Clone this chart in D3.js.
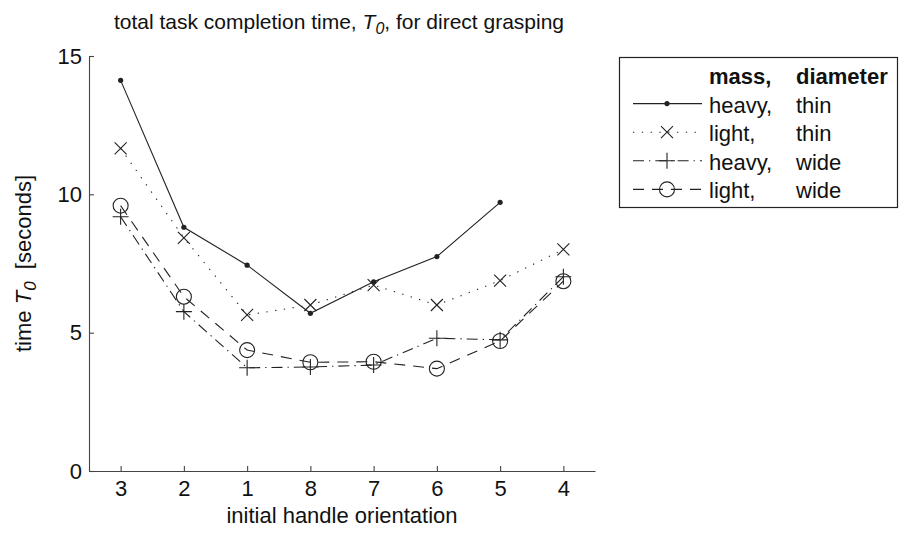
<!DOCTYPE html>
<html><head><meta charset="utf-8">
<script src="https://cdn.jsdelivr.net/npm/d3@7/dist/d3.min.js"></script>
<style>
body{margin:0;background:#fff;}
svg{display:block;font-family:"Liberation Sans",Arial,Helvetica,sans-serif;}
</style></head>
<body><svg id="c" width="899" height="533"></svg>
<script>
const categories = ["3","2","1","8","7","6","5","4"];
const yTicks = [0,5,10,15];
const heavyThin = [14.12, 8.81, 7.44, 5.70, 6.84, 7.75, 9.71, null];
const lightThin = [11.66, 8.43, 5.64, 6.00, 6.72, 6.00, 6.88, 8.01];
const heavyWide = [9.19, 5.76, 3.73, 3.76, 3.83, 4.80, 4.74, 7.02];
const lightWide = [9.59, 6.30, 4.37, 3.93, 3.95, 3.70, 4.70, 6.86];
const legendHeader = ["mass,", "diameter"];
const legendRows = [["heavy,","thin"],["light,","thin"],["heavy,","wide"],["light,","wide"]];

const svg = d3.select("#c");
const FS = 22;
const ink = "#222";
const x = d3.scalePoint().domain(categories).range([89,595]).padding(0.5);
const y = d3.scaleLinear().domain([0,15]).range([471,56]);

const series = [
  {vals: heavyThin, dash: null, marker: "dot"},
  {vals: lightThin, dash: "1.3,7.5", marker: "x"},
  {vals: heavyWide, dash: "11,5,1.3,5", marker: "plus"},
  {vals: lightWide, dash: "11,8", marker: "circle"}
];

function drawMarker(g, type, cx, cy){
  if(type==="dot"){
    g.append("circle").attr("cx",cx).attr("cy",cy).attr("r",2.6).attr("fill",ink);
  } else if(type==="x"){
    const s=6;
    g.append("path").attr("d",`M${cx-s},${cy-s}L${cx+s},${cy+s}M${cx-s},${cy+s}L${cx+s},${cy-s}`)
      .attr("stroke",ink).attr("stroke-width",1.1).attr("fill","none");
  } else if(type==="plus"){
    const s=8;
    g.append("path").attr("d",`M${cx-s},${cy}L${cx+s},${cy}M${cx},${cy-s}L${cx},${cy+s}`)
      .attr("stroke",ink).attr("stroke-width",1.1).attr("fill","none");
  } else if(type==="circle"){
    g.append("circle").attr("cx",cx).attr("cy",cy).attr("r",7.5)
      .attr("fill","none").attr("stroke",ink).attr("stroke-width",1.1);
  }
}

// axes
const yAxis = d3.axisLeft(y).tickValues(yTicks).tickSizeInner(-5).tickSizeOuter(0).tickPadding(7);
const gy = svg.append("g").attr("transform","translate(89,0)").call(yAxis);
const xAxis = d3.axisBottom(x).tickSizeInner(-5).tickSizeOuter(0).tickPadding(9);
const gx = svg.append("g").attr("transform","translate(0,471)").call(xAxis);
[gx,gy].forEach(g=>{
  g.selectAll("path,line").attr("stroke","#444").attr("stroke-width",1.1);
  g.selectAll("text").attr("fill","#111").attr("font-size",FS).attr("font-family","Liberation Sans, Arial, sans-serif");
});

// lines and markers
const plot = svg.append("g");
series.forEach(s=>{
  const pts = categories.map((c,i)=>({c, v:s.vals[i]})).filter(d=>d.v!==null);
  const line = d3.line().x(d=>x(d.c)).y(d=>y(d.v));
  const p = plot.append("path").datum(pts).attr("d",line)
    .attr("fill","none").attr("stroke",ink).attr("stroke-width",1.1);
  if(s.dash) p.attr("stroke-dasharray",s.dash);
  pts.forEach(d=>drawMarker(plot, s.marker, x(d.c), y(d.v)));
});

// title
const t = svg.append("text").attr("x",339).attr("y",29).attr("text-anchor","middle")
  .attr("font-size",21).attr("fill","#111");
t.append("tspan").text("total task completion time, ");
t.append("tspan").attr("font-style","italic").text("T");
t.append("tspan").attr("font-style","italic").attr("font-size",16).attr("dy",5).text("0");
t.append("tspan").attr("dy",-5).text(", for direct grasping");

// x label
svg.append("text").attr("x",342).attr("y",523).attr("text-anchor","middle")
  .attr("font-size",FS).attr("fill","#111").text("initial handle orientation");

// y label
const yl = svg.append("text").attr("transform","translate(31,263.5) rotate(-90)")
  .attr("text-anchor","middle").attr("font-size",FS).attr("fill","#111");
yl.append("tspan").text("time ");
yl.append("tspan").attr("font-style","italic").text("T");
yl.append("tspan").attr("font-style","italic").attr("font-size",17).attr("dy",5).text("0");
yl.append("tspan").attr("dy",-5).text("\u00a0 [seconds]");

// legend
const lg = svg.append("g");
lg.append("rect").attr("x",619.5).attr("y",57.5).attr("width",278).attr("height",150)
  .attr("fill","#fff").attr("stroke","#222").attr("stroke-width",1.2);
const col1 = 709, col2 = 796, base0 = 84, step = 28.6;
lg.append("text").attr("x",col1).attr("y",base0).attr("font-size",FS).attr("font-weight","bold")
  .attr("fill","#111").text(legendHeader[0]);
lg.append("text").attr("x",col2).attr("y",base0).attr("font-size",FS).attr("font-weight","bold")
  .attr("fill","#111").text(legendHeader[1]);
legendRows.forEach((r,i)=>{
  const by = base0 + step*(i+1);
  lg.append("text").attr("x",col1).attr("y",by).attr("font-size",FS).attr("fill","#111").text(r[0]);
  lg.append("text").attr("x",col2).attr("y",by).attr("font-size",FS).attr("fill","#111").text(r[1]);
  const ly = by - 9;
  const s = series[i];
  const p = lg.append("path").attr("d",`M633,${ly}L702,${ly}`).attr("stroke",ink)
    .attr("stroke-width",1.1).attr("fill","none");
  if(s.dash) p.attr("stroke-dasharray",s.dash);
  drawMarker(lg, s.marker, 667, ly);
});
</script></body></html>
